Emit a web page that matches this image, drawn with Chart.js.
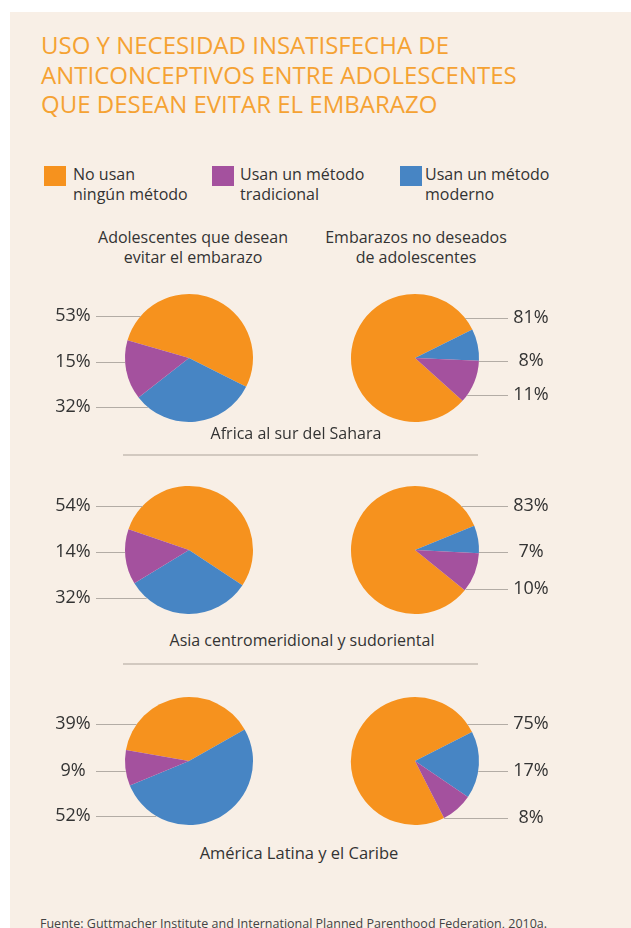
<!DOCTYPE html>
<html>
<head>
<meta charset="utf-8">
<title>Uso y necesidad insatisfecha de anticonceptivos</title>
<script src="https://cdn.jsdelivr.net/npm/chart.js@4.4.1/dist/chart.umd.min.js"></script>
<style>
  html, body { margin: 0; padding: 0; background: #fff; }
  body { width: 631px; height: 928px; overflow: hidden; position: relative; font-family: 'Open Sans', sans-serif; color: #333; }
  #panel { position: absolute; left: 10px; top: 12px; right: 0; bottom: 0; background: #f8efe6; }
  .abs { position: absolute; white-space: nowrap; }
  #title { left: 41px; top: 30px; font-size: 24px; line-height: 29.5px; color: #f5a233; }
  .sq { position: absolute; width: 22px; height: 20px; top: 166px; }
  .leg { font-size: 16px; line-height: 19.5px; top: 165px; }
  .head { font-size: 16px; line-height: 19.5px; text-align: center; top: 228px; }
  .region { text-align: center; width: 400px; }
  .sep { position: absolute; left: 123px; width: 355px; height: 2px; background: #d2c9c0; }
  #src { left: 40px; top: 915px; font-size: 12.5px; color: #444; }
  canvas { position: absolute; }
</style>
</head>
<body>
<div id="panel"></div>

<div id="title" class="abs">USO Y NECESIDAD INSATISFECHA DE<br>ANTICONCEPTIVOS ENTRE ADOLESCENTES<br>QUE DESEAN EVITAR EL EMBARAZO</div>

<div class="sq" style="left:44px;background:#f6921e"></div>
<div class="abs leg" style="left:73px">No usan<br>ningún método</div>
<div class="sq" style="left:212px;background:#a4519e"></div>
<div class="abs leg" style="left:240px">Usan un método<br>tradicional</div>
<div class="sq" style="left:400px;background:#4785c4"></div>
<div class="abs leg" style="left:425px">Usan un método<br>moderno</div>

<div class="abs head" style="left:93px;width:200px">Adolescentes que desean<br>evitar el embarazo</div>
<div class="abs head" style="left:316px;width:200px">Embarazos no deseados<br>de adolescentes</div>

<div id="charts"></div>

<div class="sep" style="top:454px"></div>
<div class="sep" style="top:663px"></div>

<div id="src" class="abs">Fuente: Guttmacher Institute and International Planned Parenthood Federation, 2010a.</div>

<script>
// data: [no usan, moderno, tradicional]
var categories = ['No usan ningún método', 'Usan un método moderno', 'Usan un método tradicional'];
var regions = ['Africa al sur del Sahara', 'Asia centromeridional y sudoriental', 'América Latina y el Caribe'];
var deseanEvitar = [
  [53, 32, 15],
  [54, 32, 14],
  [39, 52, 9]
];
var noDeseados = [
  [81, 8, 11],
  [83, 7, 10],
  [75, 17, 8]
];
var colors = ['#f6921e', '#4785c4', '#a4519e'];

// layout only
var rowCenters = [358, 550, 761];
var regionTops = [422, 629, 841];
var regionCenters = [296, 302, 299];
var regionFont = [16, 16, 16.5];
var leftRotation = [-74, -71, -80];
var rightRotation = [132, 129, 153];
var leftLabelY = [[316, 362, 407], [506, 552, 598], [724, 771, 816]];
var rightLabelY = [[318, 361, 395], [506, 552, 589], [724, 771, 818]];
var radius = 64;

// leader lines + percentage labels
var leaders = {
  id: 'leaders',
  afterDraw: function(chart, args, opts) {
    var ctx = chart.ctx;
    var arc = chart.getDatasetMeta(0).data[0];
    var cx = arc.x, cy = arc.y, r = arc.outerRadius;
    var values = chart.data.datasets[0].data;
    ctx.save();
    ctx.font = '18px "Open Sans", sans-serif';
    ctx.textAlign = 'center';
    ctx.textBaseline = 'middle';
    for (var i = 0; i < opts.order.length; i++) {
      var y = opts.ys[i] - opts.top;
      var dy = y - cy;
      var edge = Math.sqrt(Math.max(r * r - dy * dy, 0));
      ctx.strokeStyle = '#b3aca5';
      ctx.lineWidth = 1;
      ctx.beginPath();
      if (opts.side == 'left') {
        ctx.moveTo(opts.textX + 23, y + 0.5);
        ctx.lineTo(cx - edge, y + 0.5);
      } else {
        ctx.moveTo(cx + edge, y + 0.5);
        ctx.lineTo(opts.textX - 23, y + 0.5);
      }
      ctx.stroke();
      ctx.fillStyle = '#333';
      ctx.fillText(values[opts.order[i]] + '%', opts.textX, y);
    }
    ctx.restore();
  }
};

function makePie(values, rotation, left, width, cxPage, cyPage, side, ys, textXPage) {
  var canvas = document.createElement('canvas');
  var top = cyPage - 75;
  canvas.width = width;
  canvas.height = 150;
  canvas.style.left = left + 'px';
  canvas.style.top = top + 'px';
  document.getElementById('charts').appendChild(canvas);

  var padV = 75 - radius;
  var padL, padR;
  if (side == 'left') {
    padR = 10;
    padL = 2 * (cxPage - left) - width + padR;
  } else {
    padL = 10;
    padR = width - 2 * (cxPage - left) + padL;
  }

  new Chart(canvas.getContext('2d'), {
    type: 'pie',
    data: {
      labels: categories,
      datasets: [{
        data: values,
        backgroundColor: colors,
        borderWidth: 0
      }]
    },
    options: {
      responsive: false,
      animation: false,
      events: [],
      rotation: rotation,
      layout: { padding: { left: padL, right: padR, top: padV, bottom: padV } },
      plugins: {
        legend: { display: false },
        tooltip: { enabled: false },
        leaders: {
          side: side,
          ys: ys,
          top: top,
          textX: textXPage - left,
          order: side == 'left' ? [0, 2, 1] : [0, 1, 2]
        }
      }
    },
    plugins: [leaders]
  });
}

for (var k = 0; k < regions.length; k++) {
  makePie(deseanEvitar[k], leftRotation[k], 40, 230, 189, rowCenters[k], 'left', leftLabelY[k], 73);
  makePie(noDeseados[k], rightRotation[k], 340, 230, 415, rowCenters[k], 'right', rightLabelY[k], 531);

  var lab = document.createElement('div');
  lab.className = 'abs region';
  lab.style.top = regionTops[k] + 'px';
  lab.style.left = (regionCenters[k] - 200) + 'px';
  lab.style.fontSize = regionFont[k] + 'px';
  lab.textContent = regions[k];
  document.body.appendChild(lab);
}
</script>
</body>
</html>
